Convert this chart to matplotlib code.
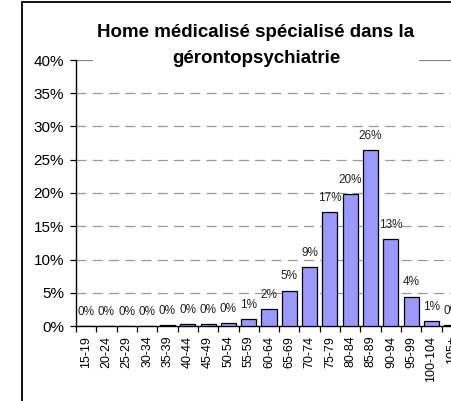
import matplotlib
matplotlib.use('Agg')
import matplotlib.pyplot as plt
from matplotlib.patches import Rectangle
import numpy as np

plt.rcParams['font.family'] = ['Liberation Sans', 'DejaVu Sans']

# Data
age_groups = ['15-19', '20-24', '25-29', '30-34', '35-39', '40-44', '45-49',
              '50-54', '55-59', '60-64', '65-69', '70-74', '75-79', '80-84',
              '85-89', '90-94', '95-99', '100-104', '105+']
shares = [0.0, 0.0, 0.0, 0.0, 0.1, 0.3, 0.3, 0.45, 1.0, 2.5, 5.3, 8.8,
          17.1, 19.8, 26.4, 13.05, 4.4, 0.7, 0.1]
title = 'Home médicalisé spécialisé dans la\ngérontopsychiatrie'

fig = plt.figure(figsize=(4.51, 4.01), dpi=100)
W, H = 451, 401

# chart area border (cropped at right / bottom)
fig.patches.append(Rectangle((22 / W, -0.1), 1.2, 1 - 2 / H + 0.1,
                             transform=fig.transFigure, fill=False,
                             edgecolor='black', linewidth=1.3))

ax = fig.add_axes([76 / W, 75 / H, 386 / W, 266 / H])
x = np.arange(len(age_groups))
vals = np.array(shares) / 100
ax.bar(x, vals, width=0.74, color='#9999FF', edgecolor='black', linewidth=0.9, zorder=3)

ax.set_xlim(-0.5, len(age_groups) - 0.5)
ax.set_ylim(0, 0.40)
yt = np.arange(0, 0.41, 0.05)
ax.set_yticks(yt)
ax.set_yticklabels([f'{v*100:.0f}%' for v in yt], fontsize=11)
for v in yt[1:-1]:
    ax.axhline(v, color='#999999', linestyle=(0, (8, 5)), linewidth=0.9, zorder=1)
ax.axhline(0.40, color='#808080', linewidth=0.9, zorder=1)

ax.set_xticks(x)
ax.set_xticklabels(age_groups, rotation=90, fontsize=9)
ax.set_xticks(np.arange(-0.5, len(age_groups)), minor=True)
ax.tick_params(axis='x', which='major', length=0, pad=7)
ax.tick_params(axis='x', which='minor', length=4, width=0.9, direction='out')
ax.tick_params(axis='y', length=4, width=0.9, pad=4.5)

for s in ['top', 'right']:
    ax.spines[s].set_visible(False)
ax.spines['left'].set_linewidth(1.0)
ax.spines['bottom'].set_linewidth(1.0)

for xi, v, s in zip(x, vals, shares):
    ax.annotate(f'{s:.0f}%', (xi, v), textcoords='offset points', xytext=(0, 6),
                ha='center', va='bottom', fontsize=8.5, color='#222222', zorder=4)

fig.text(256 / W, 1 - 45.5 / H, title, ha='center', va='center', fontsize=13.5,
         fontweight='bold', linespacing=1.7,
         bbox=dict(facecolor='white', edgecolor='none', pad=3))

fig.savefig('out.png', dpi=100)
